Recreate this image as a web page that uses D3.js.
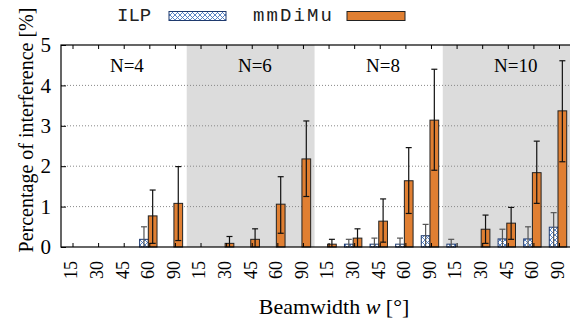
<!DOCTYPE html>
<html><head><meta charset="utf-8">
<script src="https://cdn.jsdelivr.net/npm/d3@7"></script>
<style>body{margin:0;background:#fff}svg{display:block}</style>
</head><body>
<svg id="c" width="570" height="320"></svg>
<script>
const groups = ["N=4","N=6","N=8","N=10"];
const widths = ["15","30","45","60","90"];
const yTicks = [0,1,2,3,4,5];
const ilp   = [0,0,0,0.19,0,  0,0,0,0,0,  0,0.07,0.07,0.07,0.28,  0.07,0,0.2,0.2,0.49];
const ilpHi = [0,0,0,0.5,0,   0,0,0,0,0,  0,0.19,0.22,0.22,0.56,  0.19,0,0.44,0.5,0.85];
const ilpLo = [0,0,0,0,0,     0,0,0,0,0,  0,0,0,0,0,              0,0,0,0,0];
const mm    = [0,0,0,0.77,1.08,  0,0.09,0.19,1.06,2.18,  0.07,0.22,0.64,1.64,3.14,  0,0.44,0.59,1.84,3.37];
const mmHi  = [0,0,0,1.41,1.99,  0,0.26,0.45,1.74,3.12,  0.19,0.45,1.19,2.46,4.40,  0,0.79,0.98,2.62,4.61];
const mmLo  = [0,0,0,0.09,0.16,  0,0,0,0.34,1.25,        0,0,0.12,0.83,1.90,        0,0.09,0.19,1.08,2.11];

const svg = d3.select("#c");
const L = 61, R = 571, T = 45, B = 247;
const n = groups.length * widths.length;
const x = d3.scaleLinear().domain([0, n - 1]).range([71.5, 558]);
const y = d3.scaleLinear().domain([0, 5]).range([B, T]);
const bw = x(0.34) - x(0);
const serif = "'Liberation Serif','Times New Roman',serif";
const mono = "'Liberation Mono','Courier New',monospace";

const defs = svg.append("defs");
const pat = defs.append("pattern").attr("id","xh").attr("patternUnits","userSpaceOnUse")
  .attr("width",5).attr("height",5);
pat.append("rect").attr("width",5).attr("height",5).attr("fill","#fff");
pat.append("path").attr("d","M0,0 L5,5 M5,0 L0,5").attr("stroke","#4a78c0").attr("stroke-width",0.9);
defs.append("clipPath").attr("id","pc").append("rect").attr("x",L).attr("y",T).attr("width",R-L).attr("height",B-T);

// group backgrounds
svg.append("g").selectAll("rect").data(groups).join("rect")
  .attr("x", (d,g) => x(g*5 - 0.5)).attr("width", (d,g) => x(g*5+4.5) - x(g*5-0.5))
  .attr("y", T).attr("height", B - T)
  .attr("fill", (d,g) => g % 2 ? "#dcdcdc" : "#fff")
  .attr("clip-path","url(#pc)");

// grid
svg.append("g").selectAll("line").data(yTicks.filter(v => v > 0 && v < 5)).join("line")
  .attr("x1", L).attr("x2", R).attr("y1", d => y(d)).attr("y2", d => y(d))
  .attr("stroke", "#888").attr("stroke-width", 1).attr("stroke-dasharray", "1,2");

// group labels
svg.append("g").selectAll("text").data(groups).join("text")
  .attr("x", (d,g) => x(g*5 + 1.5)).attr("y", 72)
  .attr("font-family", serif).attr("font-size", 19).attr("fill","#000")
  .text(d => d);

const idx = d3.range(n);
// bars
svg.append("g").selectAll("rect").data(idx.filter(i => ilp[i] > 0)).join("rect")
  .attr("x", i => x(i) - bw).attr("width", bw)
  .attr("y", i => y(ilp[i])).attr("height", i => B - y(ilp[i]))
  .attr("fill", "url(#xh)").attr("stroke", "#1f3a6e").attr("stroke-width", 1);
svg.append("g").selectAll("rect").data(idx.filter(i => mm[i] > 0)).join("rect")
  .attr("x", i => x(i)).attr("width", bw)
  .attr("y", i => y(mm[i])).attr("height", i => B - y(mm[i]))
  .attr("fill", "#e07f32").attr("stroke", "#222").attr("stroke-width", 1);

// error bars
function errs(vals, lo, hi, off, col) {
  const g = svg.append("g").attr("stroke", col).attr("stroke-width", 1.2).attr("fill","none");
  idx.filter(i => hi[i] > 0).forEach(i => {
    const cx = x(i) + off;
    g.append("line").attr("x1", cx).attr("x2", cx).attr("y1", y(lo[i])).attr("y2", y(hi[i]));
    g.append("line").attr("x1", cx - 3).attr("x2", cx + 3).attr("y1", y(hi[i])).attr("y2", y(hi[i]));
    if (lo[i] > 0) g.append("line").attr("x1", cx - 3).attr("x2", cx + 3).attr("y1", y(lo[i])).attr("y2", y(lo[i]));
  });
}
errs(ilp, ilpLo, ilpHi, -bw/2, "#555");
errs(mm, mmLo, mmHi, bw/2, "#111");

// frame
svg.append("rect").attr("x", L).attr("y", T).attr("width", R - L).attr("height", B - T)
  .attr("fill", "none").attr("stroke", "#000").attr("stroke-width", 1.2);

// y axis
const yAxis = d3.axisLeft(y).tickValues(yTicks).tickSize(-5).tickPadding(10).tickFormat(d3.format("d"));
const ya = svg.append("g").attr("transform", `translate(${L},0)`).call(yAxis);
ya.select(".domain").remove();
ya.selectAll("text").attr("font-family", serif).attr("font-size", 21).attr("fill","#000");
ya.selectAll("line").attr("stroke","#000");

// x axis tick labels (rotated) and inward ticks top & bottom
const xa = d3.axisBottom(x).tickValues(idx).tickSize(0).tickPadding(0)
  .tickFormat(i => widths[i % 5]);
const xg = svg.append("g").attr("transform", `translate(0,${B})`).call(xa);
xg.select(".domain").remove();
xg.selectAll("text").attr("font-family", serif).attr("font-size", 18).attr("fill","#000")
  .attr("text-anchor", "end").attr("dy", "0.35em")
  .attr("transform", "translate(-1,14) rotate(-90)");
svg.append("g").selectAll("line").data(idx).join("line")
  .attr("x1", i => x(i) + 1.5).attr("x2", i => x(i) + 1.5).attr("y1", T).attr("y2", T + 4)
  .attr("stroke","#000");
svg.append("g").selectAll("line").data(idx).join("line")
  .attr("x1", i => x(i) + 1.5).attr("x2", i => x(i) + 1.5).attr("y1", B).attr("y2", B - 4)
  .attr("stroke","#000");

// axis titles
const xt = svg.append("text").attr("x", 334).attr("y", 314).attr("text-anchor","middle")
  .attr("font-family", serif).attr("font-size", 22).attr("fill","#000");
xt.append("tspan").text("Beamwidth ");
xt.append("tspan").attr("font-style","italic").text("w");
xt.append("tspan").text(" [°]");
svg.append("text").attr("transform","translate(33,130) rotate(-90)").attr("text-anchor","middle")
  .attr("font-family", serif).attr("font-size", 20).attr("fill","#000")
  .text("Percentage of interference [%]");

// legend
const leg = svg.append("g");
leg.append("text").attr("x", 117).attr("y", 21).attr("font-family", mono).attr("font-size", 19)
  .attr("fill","#222").text("ILP");
leg.append("rect").attr("x", 169).attr("y", 11.5).attr("width", 57).attr("height", 9)
  .attr("fill","url(#xh)").attr("stroke","#1f3a6e").attr("stroke-width",1);
leg.append("text").attr("x", 253).attr("y", 21).attr("font-family", mono).attr("font-size", 19)
  .attr("fill","#222").attr("textLength", 79).attr("lengthAdjust","spacing").text("mmDiMu");
leg.append("rect").attr("x", 347).attr("y", 11.5).attr("width", 58).attr("height", 9)
  .attr("fill","#e07f32").attr("stroke","#222").attr("stroke-width",1);
</script>
</body></html>
